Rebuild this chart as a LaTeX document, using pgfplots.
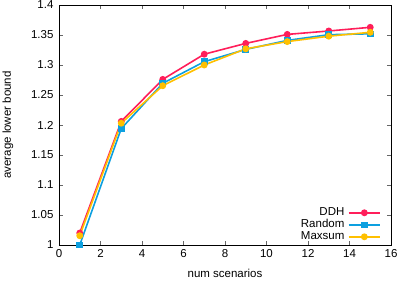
\documentclass[border=0pt]{standalone}
\usepackage{pgfplots}
\pgfplotsset{compat=1.18}
\usepackage{fontspec}
\setmainfont{Liberation Sans}
\definecolor{cddh}{HTML}{FF1E5A}
\definecolor{crand}{HTML}{0DA0E0}
\definecolor{cmax}{HTML}{FFC000}
\begin{document}
\begin{tikzpicture}
\useasboundingbox (-59pt,-36pt) rectangle (340pt,245pt);
\begin{axis}[
  at={(0pt,0pt)}, anchor=south west,
  scale only axis, width=332pt, height=240pt,
  xmin=0, xmax=16, ymin=1, ymax=1.4,
  xtick={0,2,...,16},
  ytick={1,1.05,...,1.41},
  tick align=inside, major tick length=4pt,
  tick style={black!60, line width=0.5pt},
  axis line style={black, line width=0.8pt},
  font=\fontsize{11.5}{13}\selectfont,
  ticklabel style={font=\fontsize{11.5}{13}\selectfont},
  /pgf/number format/assume math mode=true,
  yticklabel={\pgfmathprintnumber[fixed,precision=2]{\tick}},
  yticklabel style={xshift=-2pt},
  xticklabel style={yshift=-1pt},
  xlabel={num scenarios}, ylabel={average lower bound},
  xlabel style={at={(axis description cs:0.5,-0.1167)}, anchor=center},
  ylabel style={at={(axis description cs:-0.1536,0.5)}, anchor=center, rotate=0},
  legend plot pos=right, legend cell align=right,
  legend image code/.code={\draw[mark repeat=2,mark phase=2] plot coordinates {(0cm,0cm)(0.55cm,0cm)(1.1cm,0cm)};},
  legend style={draw=none, fill=none, at={(1,0)}, anchor=south east, xshift=-7pt, yshift=0pt,
    font=\fontsize{11.5}{12}\selectfont, nodes={inner sep=0.5pt, text height=8.2pt, text depth=2.8pt}, column sep=3pt},
  every axis plot/.append style={line width=1.6pt},
]
\addplot[cddh, mark=*, mark size=2.6pt] coordinates {
(1,1.020) (3,1.206) (5,1.276) (7,1.318) (9,1.336) (11,1.351) (13,1.3567) (15,1.3628)};
\addlegendentry{DDH}
\addplot[crand, mark=square*, mark size=2.5pt] coordinates {
(1,1.000) (3,1.194) (5,1.2695) (7,1.3055) (9,1.326) (11,1.341) (13,1.3505) (15,1.352)};
\addlegendentry{Random}
\addplot[cmax, mark=*, mark size=2.6pt] coordinates {
(1,1.0155) (3,1.203) (5,1.2655) (7,1.300) (9,1.327) (11,1.339) (13,1.348) (15,1.3545)};
\addlegendentry{Maxsum}
\end{axis}
\end{tikzpicture}
\end{document}
